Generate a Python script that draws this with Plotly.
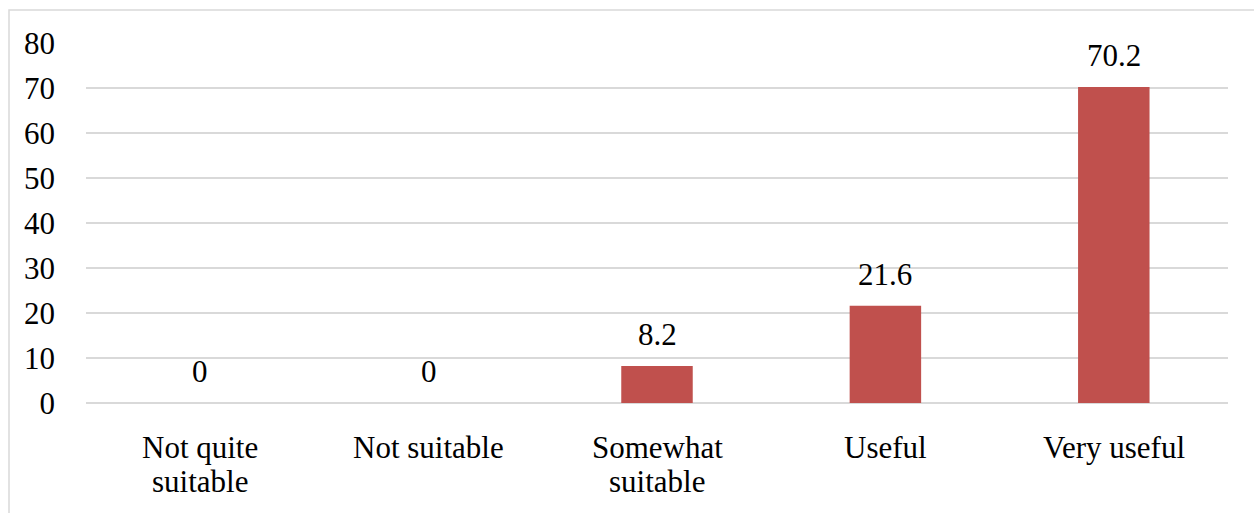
import plotly.graph_objects as go

# Survey ratings (percent of respondents)
categories = ["Not quite suitable", "Not suitable", "Somewhat suitable", "Useful", "Very useful"]
label_lines = [["Not quite", "suitable"], ["Not suitable"], ["Somewhat", "suitable"], ["Useful"], ["Very useful"]]
values = [0, 0, 8.2, 21.6, 70.2]
y_ticks = [0, 10, 20, 30, 40, 50, 60, 70, 80]

W, H = 1254, 513
ML, MR, MT, MB = 86, 26, 43, 110
FONT = "Liberation Serif"
FS = 31
BAR = "#C0504D"
GRID = "#D9D9D9"

fig = go.Figure(go.Bar(
    x=categories, y=values,
    marker=dict(color=BAR, line=dict(width=0)),
    hoverinfo="x+y",
))

annotations = []
# value labels above each bar
for c, v in zip(categories, values):
    annotations.append(dict(
        x=c, y=v, xref="x", yref="y", text=f"{v:g}", showarrow=False,
        yanchor="bottom", yshift=12, font=dict(family=FONT, size=FS, color="#000"),
    ))
# category labels, one annotation per line
for c, lines in zip(categories, label_lines):
    for i, ln in enumerate(lines):
        annotations.append(dict(
            x=c, y=0, xref="x", yref="paper", text=ln, showarrow=False,
            yanchor="middle", yshift=-44 - 34 * i,
            font=dict(family=FONT, size=FS, color="#000"),
        ))

pw = W - ML - MR
ph = H - MT - MB
fig.add_shape(
    type="rect", xref="paper", yref="paper",
    x0=(9 - ML) / pw, x1=(W + 10 - ML) / pw,
    y0=-(H + 10 - MT - ph) / ph, y1=1 + (MT - 10) / ph,
    line=dict(color=GRID, width=1.5), fillcolor="rgba(0,0,0,0)", layer="below",
)

fig.update_layout(
    width=W, height=H,
    margin=dict(l=ML, r=MR, t=MT, b=MB),
    paper_bgcolor="white", plot_bgcolor="white",
    bargap=0.687, showlegend=False,
    font=dict(family=FONT, size=FS, color="#000"),
    annotations=annotations,
    xaxis=dict(showticklabels=False, showgrid=False, showline=False, ticks="", fixedrange=True),
    yaxis=dict(
        range=[0, 80], tickvals=y_ticks, showgrid=True, gridcolor=GRID, gridwidth=1.5,
        zeroline=True, zerolinecolor=GRID, zerolinewidth=1.5, showline=False,
        ticks="", ticklabelstandoff=30, tickfont=dict(family=FONT, size=FS, color="#000"),
        fixedrange=True,
    ),
)

fig.write_html("out.html")
